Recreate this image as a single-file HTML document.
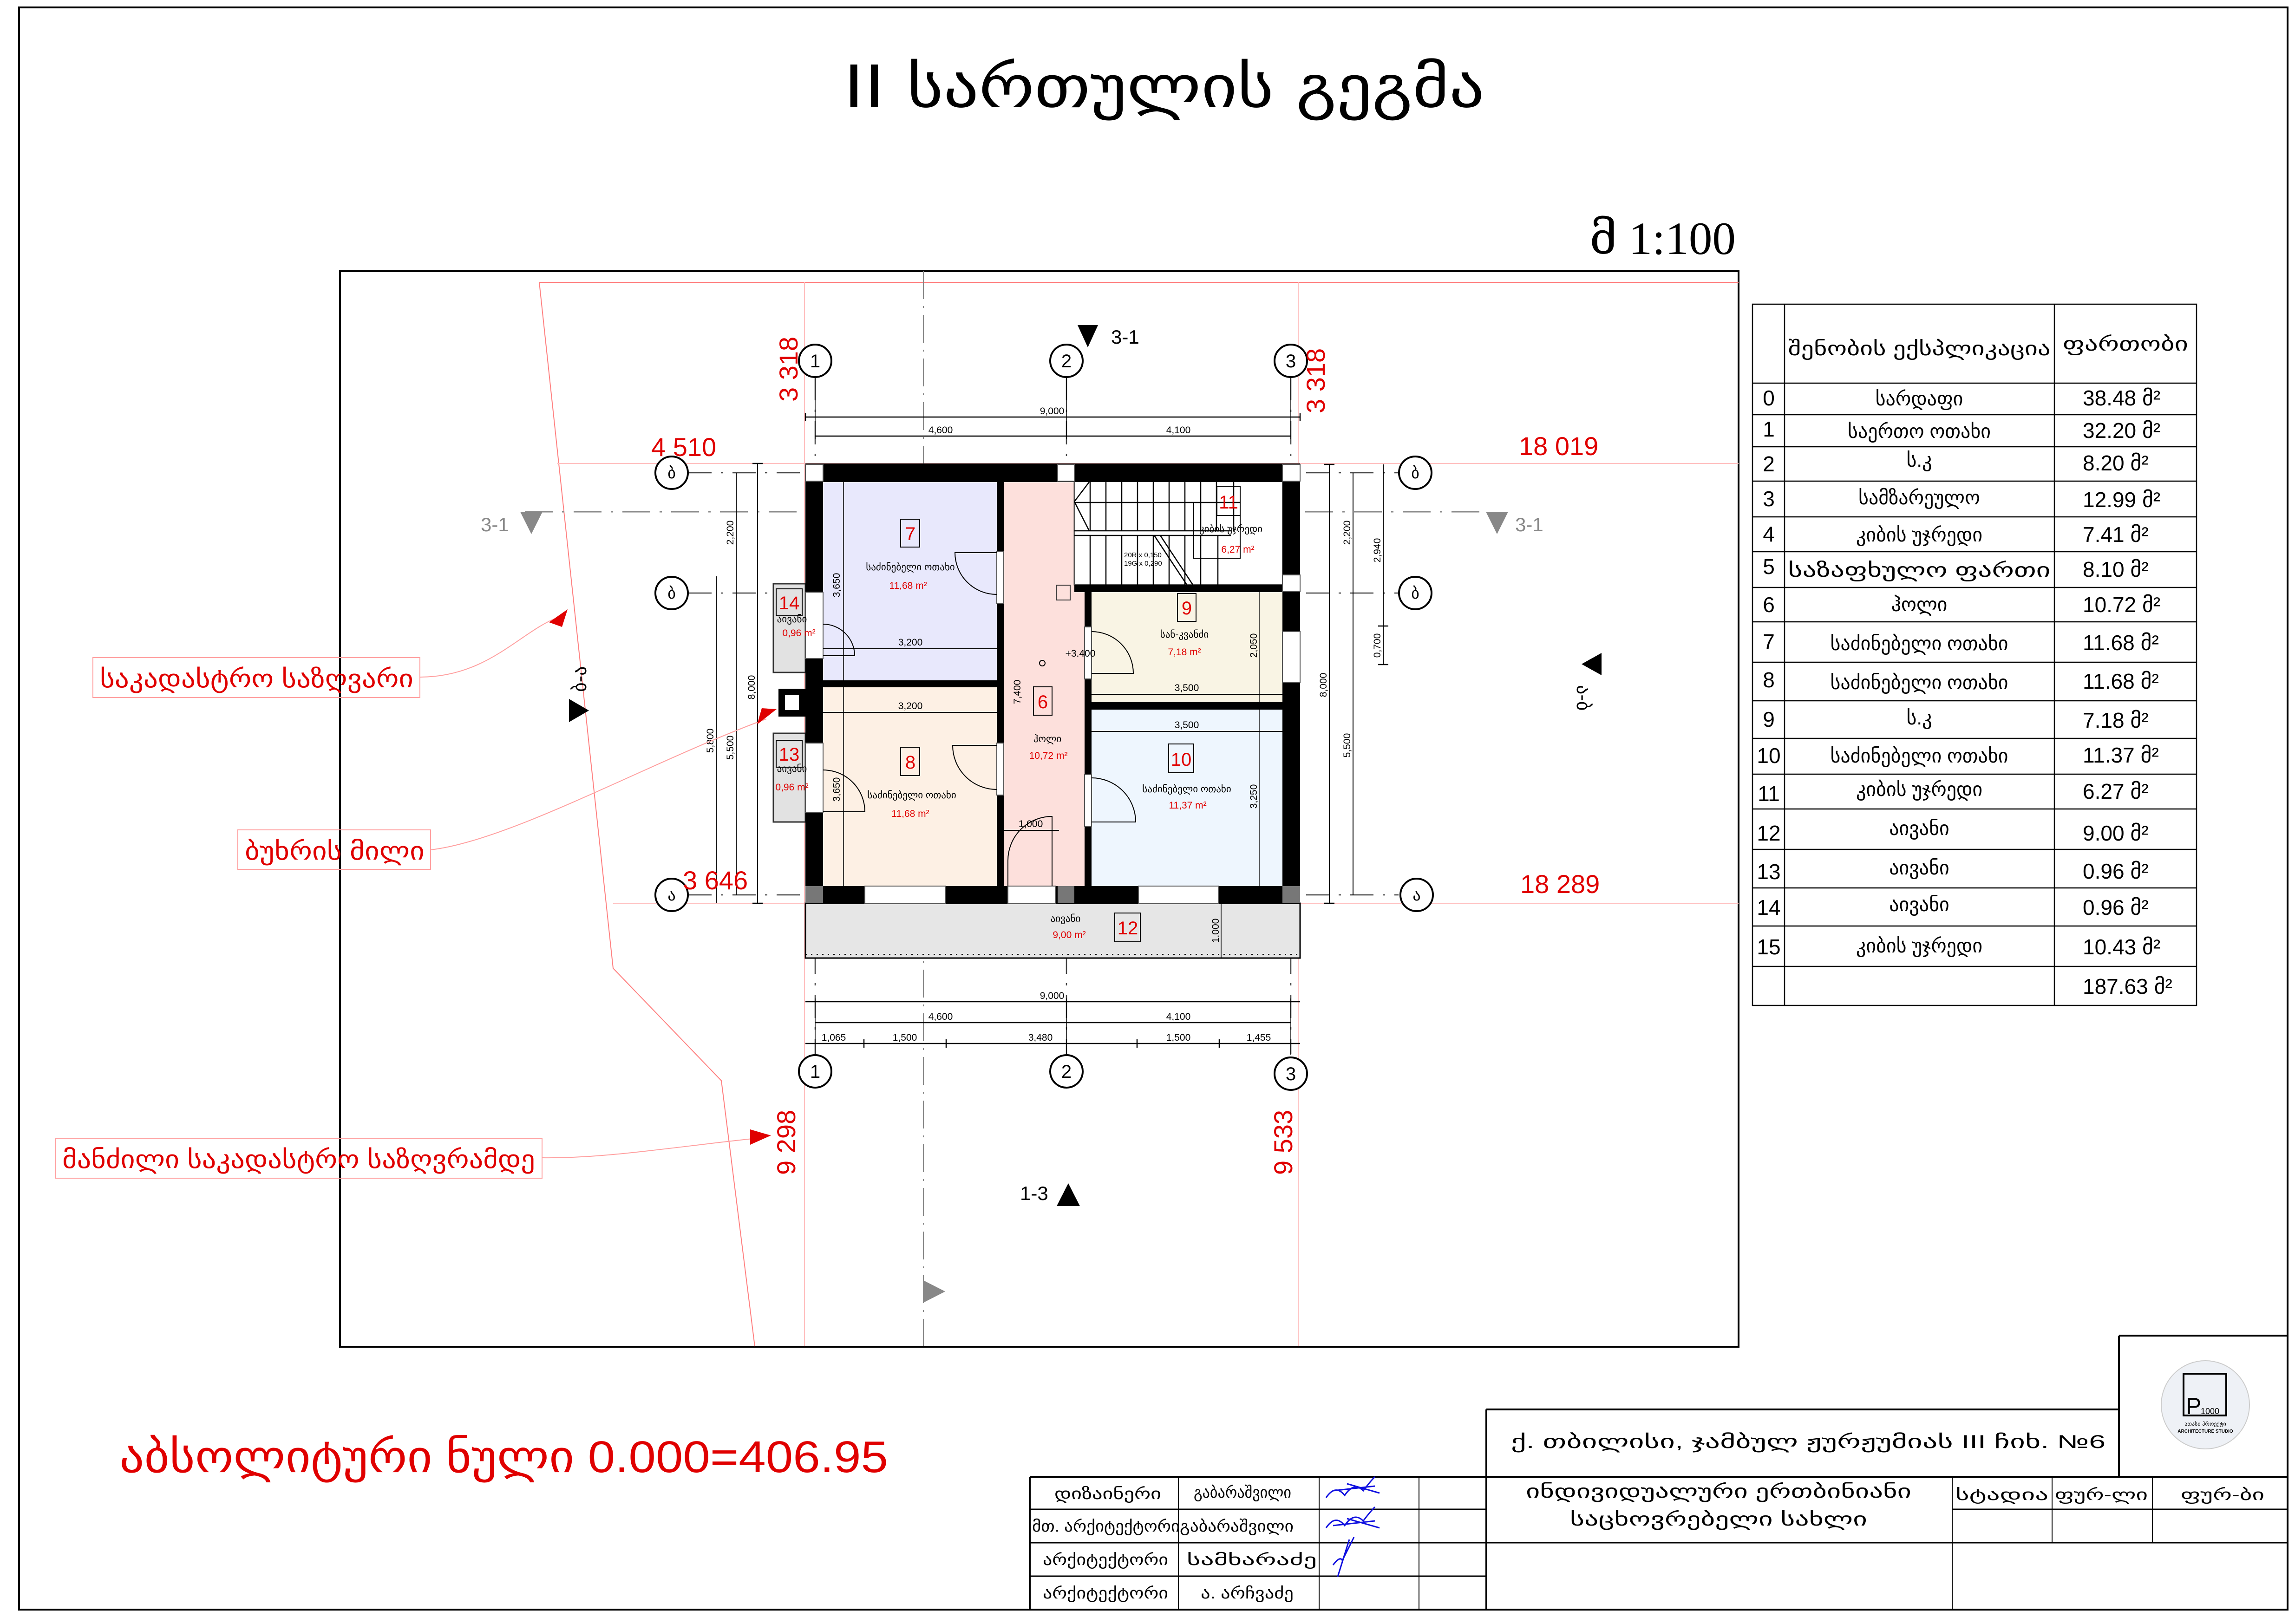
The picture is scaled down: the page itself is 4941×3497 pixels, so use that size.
<!DOCTYPE html>
<html><head><meta charset="utf-8"><style>
html,body{margin:0;padding:0;background:#fff}
svg{display:block}
text{font-family:"Liberation Sans","DejaVu Sans",sans-serif}
.g{font-family:"DejaVu Sans","Liberation Sans",sans-serif}
.s{font-family:"Liberation Serif","DejaVu Serif",serif}
</style></head><body>
<svg width="4941" height="3497" viewBox="0 0 4941 3497" xmlns="http://www.w3.org/2000/svg">
<rect width="4941" height="3497" fill="#fff"/>
<rect x="41" y="16" width="4884" height="3450" fill="none" stroke="#000" stroke-width="4"/>

<text x="1816" y="230" class="g" font-size="125" textLength="1380" lengthAdjust="spacingAndGlyphs">II სართულის გეგმა</text>
<text x="3422" y="547" class="s" font-size="100" textLength="315" lengthAdjust="spacingAndGlyphs">მ 1:100</text>

<rect x="732" y="584" width="3011" height="2316" fill="none" stroke="#000" stroke-width="4"/>

<g stroke="#ff8080" stroke-width="2" fill="none">
<line x1="1161" y1="608" x2="3743" y2="608"/>
<polyline points="1161,608 1320,2085 1553,2327 1625,2899"/>
</g>
<g stroke="#ffc0c0" stroke-width="2">
<line x1="1732" y1="608" x2="1732" y2="2899"/>
<line x1="2795" y1="608" x2="2795" y2="2899"/>
<line x1="1200" y1="998" x2="3743" y2="998"/>
<line x1="1320" y1="1945" x2="3743" y2="1945"/>
</g>
<line x1="1988" y1="584" x2="1988" y2="2899" stroke="#888" stroke-width="2" stroke-dasharray="60,15,4,15"/>

<g stroke="#444" stroke-width="2.5" stroke-dasharray="50,20,5,20">
<line x1="1755" y1="812" x2="1755" y2="2270"/>
<line x1="2296" y1="812" x2="2296" y2="2270"/>
<line x1="2779" y1="812" x2="2779" y2="2270"/>
<line x1="1482" y1="1018" x2="3011" y2="1018"/>
<line x1="1482" y1="1277" x2="3011" y2="1277"/>
<line x1="1482" y1="1927" x2="3011" y2="1927"/>
</g>
<line x1="1130" y1="1102" x2="3200" y2="1102" stroke="#888" stroke-width="3" stroke-dasharray="60,20,5,20"/>

<rect x="1772" y="1038" width="374" height="427" fill="#e8e8fc"/>
<rect x="1772" y="1480" width="374" height="428" fill="#fdf0e4"/>
<rect x="2161" y="1038" width="174" height="870" fill="#fde0dc"/>
<rect x="2313" y="1036" width="449" height="223" fill="#fff" stroke="#555" stroke-width="3"/>
<rect x="2350" y="1275" width="411" height="237" fill="#f9f4e4"/>
<rect x="2350" y="1528" width="411" height="380" fill="#eef6fe"/>
<rect x="1734" y="1945" width="1065" height="118" fill="#e6e6e6" stroke="#000" stroke-width="3"/>
<line x1="1734" y1="2055" x2="2799" y2="2055" stroke="#000" stroke-width="2" stroke-dasharray="3,9"/>
<rect x="1665" y="1257" width="69" height="191" fill="#e2e2e2" stroke="#333" stroke-width="3"/>
<rect x="1665" y="1579" width="69" height="191" fill="#e2e2e2" stroke="#333" stroke-width="3"/>

<g fill="#000">
<rect x="1734" y="998" width="1065" height="40"/>
<rect x="1734" y="998" width="38" height="947"/>
<rect x="2761" y="998" width="38" height="947"/>
<rect x="1734" y="1908" width="1065" height="37"/>
<rect x="1772" y="1465" width="374" height="15"/>
<rect x="2146" y="1038" width="15" height="870"/>
<rect x="2335" y="1259" width="15" height="649"/>
<rect x="2313" y="1259" width="448" height="16"/>
<rect x="2350" y="1512" width="411" height="16"/>
<rect x="1676" y="1483" width="58" height="60"/>
</g>
<rect x="1690" y="1497" width="30" height="32" fill="#fff"/>
<g fill="#fff" stroke="#555" stroke-width="2">
<rect x="1862" y="1908" width="174" height="37"/>
<rect x="2170" y="1908" width="102" height="37"/>
<rect x="2451" y="1908" width="172" height="37"/>
<rect x="1734" y="1275" width="38" height="143"/>
<rect x="1734" y="1600" width="38" height="150"/>
<rect x="2761" y="1360" width="38" height="110"/>
<rect x="1734" y="1000" width="38" height="36"/>
<rect x="2277" y="1000" width="36" height="36"/>
<rect x="2761" y="1000" width="38" height="36"/>
<rect x="2761" y="1238" width="38" height="36"/>
<rect x="2146" y="1188" width="15" height="112"/>
<rect x="2146" y="1600" width="15" height="112"/>
<rect x="2335" y="1350" width="15" height="112"/>
<rect x="2335" y="1668" width="15" height="112"/>
</g>
<g fill="#777"><rect x="1734" y="1908" width="38" height="37"/><rect x="2277" y="1908" width="36" height="37"/><rect x="2761" y="1908" width="38" height="37"/></g>

<g stroke="#000" stroke-width="2.5" fill="none">
<line x1="2313" y1="1143" x2="2650" y2="1143"/>
<line x1="2313" y1="1153" x2="2650" y2="1153"/>
<line x1="2313" y1="1082" x2="2670" y2="1082"/>
<rect x="2570" y="1082" width="100" height="120" stroke-width="2"/>
<line x1="2313" y1="1080" x2="2345" y2="1038"/><line x1="2313" y1="1080" x2="2345" y2="1143"/>
<line x1="2485" y1="1153" x2="2555" y2="1259"/><line x1="2498" y1="1153" x2="2568" y2="1259"/>
</g>
<g stroke="#000" stroke-width="2.5">
<line x1="2347" y1="1038" x2="2347" y2="1143"/><line x1="2381" y1="1038" x2="2381" y2="1143"/><line x1="2415" y1="1038" x2="2415" y2="1143"/><line x1="2449" y1="1038" x2="2449" y2="1143"/><line x1="2483" y1="1038" x2="2483" y2="1143"/><line x1="2517" y1="1038" x2="2517" y2="1143"/><line x1="2551" y1="1038" x2="2551" y2="1143"/><line x1="2585" y1="1038" x2="2585" y2="1143"/><line x1="2619" y1="1038" x2="2619" y2="1143"/><line x1="2656" y1="1038" x2="2656" y2="1143"/>
<line x1="2347" y1="1153" x2="2347" y2="1259"/><line x1="2381" y1="1153" x2="2381" y2="1259"/><line x1="2415" y1="1153" x2="2415" y2="1259"/><line x1="2449" y1="1153" x2="2449" y2="1259"/><line x1="2483" y1="1153" x2="2483" y2="1259"/><line x1="2517" y1="1153" x2="2517" y2="1259"/><line x1="2551" y1="1153" x2="2551" y2="1259"/><line x1="2585" y1="1153" x2="2585" y2="1259"/><line x1="2622" y1="1153" x2="2622" y2="1259"/>
</g>
<text x="2420" y="1200" font-size="15">20R x 0,150</text>
<text x="2420" y="1218" font-size="15">19G x 0,290</text>
<rect x="2274" y="1260" width="30" height="32" fill="none" stroke="#333" stroke-width="2"/>

<g stroke="#000" stroke-width="2" fill="none">
<path d="M2146 1190 h-90 a90 90 0 0 0 90 90"/>
<path d="M1772 1412 h68 a68 68 0 0 0 -68 -68"/>
<path d="M2146 1605 h-95 a95 95 0 0 0 95 95"/>
<path d="M1772 1748 h90 a90 90 0 0 0 -90 -90"/>
<path d="M2350 1450 h90 a90 90 0 0 0 -90 -90"/>
<path d="M2350 1770 h95 a95 95 0 0 0 -95 -95"/>
<path d="M2170 1908 v-55 a95 95 0 0 1 95 -95 v150"/>
</g>

<g fill="none" stroke="#000" stroke-width="2">
<rect x="1939" y="1118" width="41" height="60"/><rect x="1939" y="1609" width="41" height="61"/>
<rect x="2225" y="1479" width="40" height="61"/><rect x="2535" y="1278" width="40" height="60"/>
<rect x="2516" y="1602" width="54" height="62"/><rect x="2620" y="1047" width="50" height="63"/>
<rect x="2400" y="1966" width="55" height="62"/><rect x="1671" y="1268" width="56" height="58"/>
<rect x="1671" y="1594" width="56" height="58"/>
</g>
<g class="s" fill="#e00000" font-size="40" text-anchor="middle">
<text x="1960" y="1163">7</text><text x="1960" y="1655">8</text><text x="2245" y="1525">6</text>
<text x="2555" y="1323">9</text><text x="2543" y="1649">10</text><text x="2645" y="1095">11</text>
<text x="2428" y="2012">12</text><text x="1699" y="1312">14</text><text x="1699" y="1638">13</text>
</g>
<g class="g" font-size="21" text-anchor="middle">
<text x="1960" y="1228">საძინებელი ოთახი</text>
<text x="1963" y="1719">საძინებელი ოთახი</text>
<text x="2255" y="1598">ჰოლი</text>
<text x="2550" y="1373">სან-კვანძი</text>
<text x="2555" y="1706">საძინებელი ოთახი</text>
<text x="2650" y="1146">კიბის უჯრედი</text>
<text x="2294" y="1985">აივანი</text>
<text x="1705" y="1340">აივანი</text>
<text x="1705" y="1662">აივანი</text>
</g>
<g fill="#e00000" font-size="21" text-anchor="middle">
<text x="1955" y="1268">11,68 m²</text><text x="1960" y="1759">11,68 m²</text>
<text x="2257" y="1634">10,72 m²</text><text x="2550" y="1411">7,18 m²</text>
<text x="2557" y="1741">11,37 m²</text><text x="2665" y="1190">6,27 m²</text>
<text x="2302" y="2020">9,00 m²</text><text x="1720" y="1370">0,96 m²</text><text x="1705" y="1702">0,96 m²</text>
</g>
<g stroke="#000" stroke-width="2">
<line x1="1772" y1="1397" x2="2146" y2="1397"/><line x1="1772" y1="1534" x2="2146" y2="1534"/>
<line x1="2350" y1="1495" x2="2761" y2="1495"/><line x1="2350" y1="1575" x2="2761" y2="1575"/>
<line x1="2161" y1="1788" x2="2280" y2="1788"/>
<line x1="1816" y1="1038" x2="1816" y2="1908" stroke-width="1.5"/>
<line x1="2711" y1="1275" x2="2711" y2="1908" stroke-width="1.5"/>
<line x1="2629" y1="1945" x2="2629" y2="2063" stroke-width="1.5"/>
</g>
<g font-size="21" text-anchor="middle">
<text x="1960" y="1390">3,200</text><text x="1960" y="1527">3,200</text>
<text x="2555" y="1488">3,500</text><text x="2555" y="1568">3,500</text>
<text x="2219" y="1781">1,000</text>
<text x="2326" y="1414">+3.400</text>
<text transform="translate(1808,1260) rotate(-90)">3,650</text>
<text transform="translate(1808,1700) rotate(-90)">3,650</text>
<text transform="translate(2706,1390) rotate(-90)">2,050</text>
<text transform="translate(2706,1715) rotate(-90)">3,250</text>
<text transform="translate(2197,1490) rotate(-90)">7,400</text>
<text transform="translate(2624,2004) rotate(-90)">1.000</text>
</g>
<circle cx="2244" cy="1428" r="6" fill="none" stroke="#000" stroke-width="2"/>

<g stroke="#000" stroke-width="2.5">
<line x1="1734" y1="898" x2="2799" y2="898"/><line x1="1755" y1="939" x2="2779" y2="939"/>
<line x1="1734" y1="2157" x2="2799" y2="2157"/><line x1="1755" y1="2202" x2="2779" y2="2202"/>
<line x1="1734" y1="2247" x2="2799" y2="2247"/>
<line x1="1755" y1="812" x2="1755" y2="945" stroke-width="1.5"/><line x1="2296" y1="812" x2="2296" y2="945" stroke-width="1.5"/><line x1="2779" y1="812" x2="2779" y2="945" stroke-width="1.5"/>
<line x1="1734" y1="890" x2="1734" y2="906"/><line x1="2799" y1="890" x2="2799" y2="906"/>
<line x1="1860" y1="2238" x2="1860" y2="2256"/><line x1="2037" y1="2238" x2="2037" y2="2256"/><line x1="2448" y1="2238" x2="2448" y2="2256"/><line x1="2625" y1="2238" x2="2625" y2="2256"/>
<line x1="1755" y1="2150" x2="1755" y2="2272" stroke-width="1.5"/><line x1="2296" y1="2150" x2="2296" y2="2272" stroke-width="1.5"/><line x1="2779" y1="2150" x2="2779" y2="2272" stroke-width="1.5"/>
<line x1="1542" y1="1241" x2="1542" y2="1945" stroke-width="2"/>
<line x1="1585" y1="1018" x2="1585" y2="1927" stroke-width="2"/>
<line x1="1631" y1="998" x2="1631" y2="1945" stroke-width="2"/>
<line x1="2862" y1="1000" x2="2862" y2="1945" stroke-width="2"/>
<line x1="2913" y1="1018" x2="2913" y2="1927" stroke-width="2"/>
<line x1="2978" y1="1000" x2="2978" y2="1431" stroke-width="2"/>
<line x1="1620" y1="998" x2="1642" y2="998"/><line x1="1620" y1="1945" x2="1642" y2="1945"/>
<line x1="2851" y1="1000" x2="2873" y2="1000"/><line x1="2851" y1="1945" x2="2873" y2="1945"/>
<line x1="2967" y1="1348" x2="2989" y2="1348"/><line x1="2967" y1="1431" x2="2989" y2="1431"/>
</g>
<g font-size="21" text-anchor="middle">
<text x="2265" y="892">9,000</text><text x="2025" y="933">4,600</text><text x="2537" y="933">4,100</text>
<text x="2265" y="2151">9,000</text><text x="2025" y="2196">4,600</text><text x="2537" y="2196">4,100</text>
<text x="1795" y="2241">1,065</text><text x="1948" y="2241">1,500</text><text x="2240" y="2241">3,480</text><text x="2537" y="2241">1,500</text><text x="2710" y="2241">1,455</text>
<text transform="translate(1536,1595) rotate(-90)">5,800</text>
<text transform="translate(1579,1147) rotate(-90)">2,200</text>
<text transform="translate(1579,1610) rotate(-90)">5,500</text>
<text transform="translate(1625,1480) rotate(-90)">8,000</text>
<text transform="translate(2856,1475) rotate(-90)">8,000</text>
<text transform="translate(2907,1147) rotate(-90)">2,200</text>
<text transform="translate(2907,1605) rotate(-90)">5,500</text>
<text transform="translate(2972,1185) rotate(-90)">2,940</text>
<text transform="translate(2972,1390) rotate(-90)">0,700</text>
</g>

<g fill="#fff" stroke="#000" stroke-width="4">
<circle cx="1755" cy="777" r="35"/><circle cx="2296" cy="777" r="35"/><circle cx="2779" cy="777" r="35"/>
<circle cx="1755" cy="2307" r="35"/><circle cx="2296" cy="2307" r="35"/><circle cx="2779" cy="2312" r="35"/>
<circle cx="1446" cy="1018" r="35"/><circle cx="1446" cy="1277" r="35"/><circle cx="1446" cy="1927" r="35"/>
<circle cx="3047" cy="1018" r="35"/><circle cx="3047" cy="1277" r="35"/><circle cx="3050" cy="1927" r="35"/>
</g>
<g font-size="40" text-anchor="middle">
<text x="1755" y="791">1</text><text x="2296" y="791">2</text><text x="2779" y="791">3</text>
<text x="1755" y="2321">1</text><text x="2296" y="2321">2</text><text x="2779" y="2326">3</text>
</g>
<g class="g" font-size="34" text-anchor="middle">
<text x="1446" y="1030">ბ</text><text x="1446" y="1289">ბ</text><text x="1446" y="1939">ა</text>
<text x="3047" y="1030">ბ</text><text x="3047" y="1289">ბ</text><text x="3050" y="1939">ა</text>
</g>

<g class="s" fill="#e00000" font-size="56">
<text transform="translate(1717,865) rotate(-90)">3 318</text>
<text transform="translate(2852,890) rotate(-90)">3 318</text>
<text x="1402" y="982">4 510</text>
<text x="3270" y="980">18 019</text>
<text x="1470" y="1915">3 646</text>
<text x="3273" y="1923">18 289</text>
<text transform="translate(1712,2530) rotate(-90)">9 298</text>
<text transform="translate(2782,2530) rotate(-90)">9 533</text>
</g>

<polygon points="2320,700 2364,700 2342,748" fill="#000"/>
<text x="2392" y="740" font-size="42">3-1</text>
<polygon points="1120,1102 1168,1102 1144,1150" fill="#888"/>
<text x="1035" y="1144" font-size="42" fill="#888">3-1</text>
<polygon points="3199,1102 3247,1102 3223,1150" fill="#888"/>
<text x="3262" y="1144" font-size="42" fill="#888">3-1</text>
<polygon points="2275,2597 2325,2597 2300,2548" fill="#000"/>
<text x="2196" y="2584" font-size="42">1-3</text>
<polygon points="1988,2757 1988,2805 2035,2781" fill="#888"/>
<polygon points="1225,1505 1225,1555 1268,1530" fill="#000"/>
<text class="g" transform="translate(1262,1490) rotate(-90)" font-size="40">ბ-ა</text>
<polygon points="3448,1406 3448,1454 3405,1430" fill="#000"/>
<text class="g" transform="translate(3395,1475) rotate(90)" font-size="40">ა-ბ</text>

<g fill="none" stroke="#ffa0a0" stroke-width="2">
<rect x="200" y="1416" width="704" height="86"/>
<rect x="512" y="1787" width="415" height="85"/>
<rect x="119" y="2451" width="1048" height="86"/>
<path d="M904 1458 C1050 1458 1120 1360 1200 1330"/>
<path d="M927 1830 C1100 1810 1400 1640 1650 1548"/>
<path d="M1167 2493 C1300 2495 1450 2470 1620 2452"/>
</g>
<polygon points="1182,1340 1222,1312 1210,1350" fill="#e00000"/>
<polygon points="1630,1560 1672,1527 1640,1525" fill="#e00000"/>
<polygon points="1615,2432 1660,2445 1615,2465" fill="#e00000"/>
<g class="g" fill="#e00000" font-size="54">
<text x="215" y="1480" textLength="675" lengthAdjust="spacingAndGlyphs">საკადასტრო საზღვარი</text>
<text x="527" y="1851" textLength="387" lengthAdjust="spacingAndGlyphs">ბუხრის მილი</text>
<text x="134" y="2515" textLength="1018" lengthAdjust="spacingAndGlyphs">მანძილი საკადასტრო საზღვრამდე</text>
<text x="257" y="3170" font-size="96" textLength="1655" lengthAdjust="spacingAndGlyphs">აბსოლიტური ნული 0.000=406.95</text>
</g>

<g stroke="#000" stroke-width="2.5" fill="none">
<rect x="3773" y="655" width="956" height="1510"/>
<line x1="3842" y1="655" x2="3842" y2="2165"/>
<line x1="4423" y1="655" x2="4423" y2="2165"/>
<line x1="3773" y1="825" x2="4729" y2="825"/><line x1="3773" y1="893" x2="4729" y2="893"/>
<line x1="3773" y1="962" x2="4729" y2="962"/><line x1="3773" y1="1036" x2="4729" y2="1036"/>
<line x1="3773" y1="1113" x2="4729" y2="1113"/><line x1="3773" y1="1188" x2="4729" y2="1188"/>
<line x1="3773" y1="1265" x2="4729" y2="1265"/><line x1="3773" y1="1339" x2="4729" y2="1339"/>
<line x1="3773" y1="1426" x2="4729" y2="1426"/><line x1="3773" y1="1509" x2="4729" y2="1509"/>
<line x1="3773" y1="1590" x2="4729" y2="1590"/><line x1="3773" y1="1667" x2="4729" y2="1667"/>
<line x1="3773" y1="1742" x2="4729" y2="1742"/><line x1="3773" y1="1829" x2="4729" y2="1829"/>
<line x1="3773" y1="1912" x2="4729" y2="1912"/><line x1="3773" y1="1994" x2="4729" y2="1994"/>
<line x1="3773" y1="2081" x2="4729" y2="2081"/>
</g>
<g class="g" font-size="42" text-anchor="middle">
<text x="4132" y="765" textLength="565" lengthAdjust="spacingAndGlyphs">შენობის ექსპლიკაცია</text>
<text x="4576" y="755" textLength="270" lengthAdjust="spacingAndGlyphs">ფართობი</text>
<text x="4132" y="873">სარდაფი</text>
<text x="4132" y="943">საერთო ოთახი</text>
<text x="4132" y="1005">ს.კ</text>
<text x="4132" y="1086">სამზარეულო</text>
<text x="4132" y="1166">კიბის უჯრედი</text>
<text x="4132" y="1242" textLength="565" lengthAdjust="spacingAndGlyphs">საზაფხულო ფართი</text>
<text x="4132" y="1316">ჰოლი</text>
<text x="4132" y="1400">საძინებელი ოთახი</text>
<text x="4132" y="1484">საძინებელი ოთახი</text>
<text x="4132" y="1560">ს.კ</text>
<text x="4132" y="1642">საძინებელი ოთახი</text>
<text x="4132" y="1714">კიბის უჯრედი</text>
<text x="4132" y="1798">აივანი</text>
<text x="4132" y="1883">აივანი</text>
<text x="4132" y="1962">აივანი</text>
<text x="4132" y="2051">კიბის უჯრედი</text>
</g>
<g class="s" font-size="46" text-anchor="middle">
<text x="3808" y="873">0</text><text x="3808" y="940">1</text><text x="3808" y="1015">2</text><text x="3808" y="1090">3</text>
<text x="3808" y="1166">4</text><text x="3808" y="1236">5</text><text x="3808" y="1318">6</text><text x="3808" y="1398">7</text>
<text x="3808" y="1480">8</text><text x="3808" y="1565">9</text><text x="3808" y="1643">10</text><text x="3808" y="1725">11</text>
<text x="3808" y="1810">12</text><text x="3808" y="1893">13</text><text x="3808" y="1970">14</text><text x="3808" y="2055">15</text>
</g>
<g class="s" font-size="46">
<text x="4484" y="873">38.48 მ²</text><text x="4484" y="943">32.20 მ²</text><text x="4484" y="1013">8.20 მ²</text>
<text x="4484" y="1092">12.99 მ²</text><text x="4484" y="1167">7.41 მ²</text><text x="4484" y="1242">8.10 მ²</text>
<text x="4484" y="1318">10.72 მ²</text><text x="4484" y="1400">11.68 მ²</text><text x="4484" y="1483">11.68 მ²</text>
<text x="4484" y="1567">7.18 მ²</text><text x="4484" y="1642">11.37 მ²</text><text x="4484" y="1720">6.27 მ²</text>
<text x="4484" y="1810">9.00 მ²</text><text x="4484" y="1892">0.96 მ²</text><text x="4484" y="1970">0.96 მ²</text>
<text x="4484" y="2055">10.43 მ²</text><text x="4484" y="2140">187.63 მ²</text>
</g>

<g stroke="#000" stroke-width="4" fill="none">
<line x1="4562" y1="2876" x2="4925" y2="2876"/>
<line x1="4562" y1="2876" x2="4562" y2="3181"/>
<line x1="3200" y1="3035" x2="4562" y2="3035"/>
<line x1="3200" y1="3035" x2="3200" y2="3466"/>
<line x1="2217" y1="3180" x2="4925" y2="3180"/>
<line x1="2217" y1="3180" x2="2217" y2="3466"/>
<line x1="2217" y1="3250" x2="3200" y2="3250" stroke-width="3"/>
<line x1="2217" y1="3322" x2="4925" y2="3322" stroke-width="3"/>
<line x1="2217" y1="3394" x2="3200" y2="3394" stroke-width="3"/>
<line x1="4203" y1="3250" x2="4925" y2="3250" stroke-width="3"/>
</g>
<g stroke="#000" stroke-width="2">
<line x1="2537" y1="3180" x2="2537" y2="3466"/><line x1="2840" y1="3180" x2="2840" y2="3466"/>
<line x1="3055" y1="3180" x2="3055" y2="3466"/><line x1="4203" y1="3180" x2="4203" y2="3466"/>
<line x1="4418" y1="3180" x2="4418" y2="3322"/><line x1="4634" y1="3180" x2="4634" y2="3322"/>
</g>
<g class="g" font-size="40">
<text x="3253" y="3118" textLength="1280" lengthAdjust="spacingAndGlyphs">ქ. თბილისი, ჯამბულ ჟურჟუმიას III ჩიხ. №6</text>
<text x="3285" y="3225" textLength="830" lengthAdjust="spacingAndGlyphs">ინდივიდუალური ერთბინიანი</text>
<text x="3380" y="3285" textLength="640" lengthAdjust="spacingAndGlyphs">საცხოვრებელი სახლი</text>
</g>
<g class="g" font-size="34">
<text x="4210" y="3230" textLength="200" lengthAdjust="spacingAndGlyphs">სტადია</text>
<text x="4424" y="3230" textLength="200" lengthAdjust="spacingAndGlyphs">ფურ-ლი</text>
<text x="4695" y="3230" textLength="180" lengthAdjust="spacingAndGlyphs">ფურ-ბი</text>
<text x="2270" y="3228" textLength="230" lengthAdjust="spacingAndGlyphs">დიზაინერი</text>
<text x="2570" y="3225" textLength="210" lengthAdjust="spacingAndGlyphs">გაბარაშვილი</text>
<text x="2222" y="3298" textLength="318" lengthAdjust="spacingAndGlyphs">მთ. არქიტექტორი</text>
<text x="2540" y="3298" textLength="245" lengthAdjust="spacingAndGlyphs">გაბარაშვილი</text>
<text x="2245" y="3370" textLength="270" lengthAdjust="spacingAndGlyphs">არქიტექტორი</text>
<text x="2555" y="3370" textLength="280" lengthAdjust="spacingAndGlyphs">სამხარაძე</text>
<text x="2245" y="3442" textLength="270" lengthAdjust="spacingAndGlyphs">არქიტექტორი</text>
<text x="2585" y="3442" textLength="200" lengthAdjust="spacingAndGlyphs">ა. არჩვაძე</text>
</g>
<g stroke="#1010e0" stroke-width="3" fill="none">
<path d="M2855 3225 q20 -30 40 -5 q20 -30 40 -10 q15 -20 25 -30 M2870 3210 l90 -10 M2900 3195 l70 20"/>
<path d="M2855 3290 q20 -30 40 -5 q20 -30 40 -10 q15 -20 25 -30 M2870 3285 l90 -10 M2900 3270 l70 20"/>
<path d="M2870 3370 q15 -20 20 -10 l25 -50 M2880 3395 l25 -80"/>
</g>
<circle cx="4748" cy="3025" r="95" fill="#eef1f6" stroke="#ccc" stroke-width="2"/>
<rect x="4701" y="2958" width="92" height="90" fill="none" stroke="#000" stroke-width="4"/>
<text x="4706" y="3045" font-size="50">P</text>
<text x="4738" y="3045" font-size="18">1000</text>
<text x="4748" y="3070" class="g" font-size="12" text-anchor="middle">ათასი პროექტი</text>
<text x="4748" y="3085" font-size="10" font-weight="bold" text-anchor="middle">ARCHITECTURE STUDIO</text>
</svg>
</body></html>
